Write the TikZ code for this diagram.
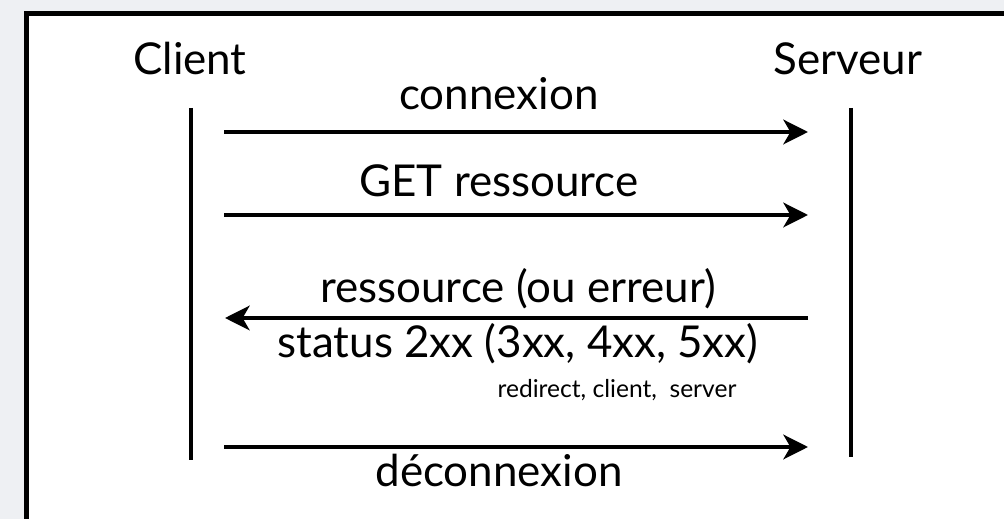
\documentclass[tikz,border=0pt]{standalone}
\usepackage{fontspec}
\setmainfont{Lato}
\usepackage{tikz}
\usepackage{xcolor}
\usetikzlibrary{positioning,arrows.meta}

\definecolor{pagegrey}{HTML}{EEF0F3}

\begin{document}
\begin{tikzpicture}[
		x=0.02cm, y=-0.02cm,
		actor/.style={anchor=base, inner sep=0pt, font=\fontsize{25}{30}\selectfont},
		msglabel/.style={anchor=base, inner sep=0pt, font=\fontsize{25}{30}\selectfont},
		smalllabel/.style={anchor=base, inner sep=0pt, font=\fontsize{14}{16}\selectfont},
		lifeline/.style={line width=2.3pt},
		msg/.style={line width=2.3pt, -{Stealth[length=14pt, width=14pt, inset=4pt]}},
	]

		% frame
		\useasboundingbox (0,0) rectangle (1004,519);
		\clip (0,0) rectangle (1004,519);
		\fill[pagegrey] (0,0) rectangle (1004,519);
		\fill[white] (26.5,13.5) rectangle (1020,540);
		\draw[line width=2.8pt] (26.5,540) -- (26.5,13.5) -- (1020,13.5);

		% nodes
		\node[actor] (client)	at (190,75)	{Client};
		\node[actor] (serveur)	at (848,75)	{Serveur};

		\coordinate (ctop) at (191,108);
		\coordinate (cbot) at (191,460);
		\coordinate (stop) at (851,108);
		\coordinate (sbot) at (851,457);

		\coordinate (c1) at (224,132);
		\coordinate (s1) at (808,132);
		\coordinate (c2) at (224,215);
		\coordinate (s2) at (808,215);
		\coordinate (c3) at (225,318);
		\coordinate (s3) at (808,318);
		\coordinate (c4) at (224,447);
		\coordinate (s4) at (808,447);

		\node[msglabel] (conn)		at (499,110)	{connexion};
		\node[msglabel] (get)		at (499,197)	{GET ressource};
		\node[msglabel] (res)		at (518,303)	{ressource (ou erreur)};
		\node[msglabel] (status)	at (518,358)	{status 2xx (3xx, 4xx, 5xx)};
		\node[smalllabel] (codes)	at (617,398)	{redirect, client,\ \ server};
		\node[msglabel] (deconn)	at (499,487)	{déconnexion};

		% lines
		\draw[lifeline] (ctop) -- (cbot);
		\draw[lifeline] (stop) -- (sbot);
		\draw[msg] (c1) -- (s1);
		\draw[msg] (c2) -- (s2);
		\draw[msg] (s3) -- (c3);
		\draw[msg] (c4) -- (s4);
	\end{tikzpicture}
\end{document}
